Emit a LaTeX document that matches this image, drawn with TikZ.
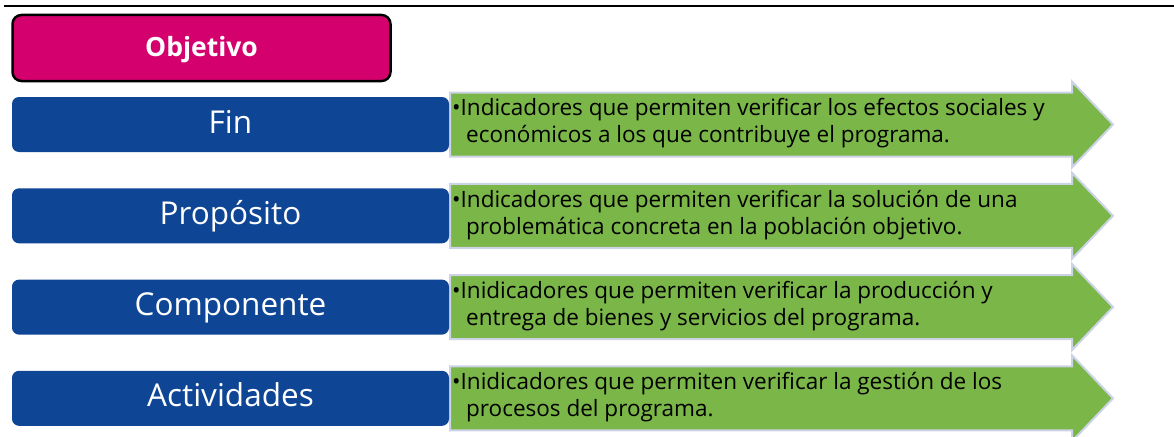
\documentclass[tikz,border=0pt]{standalone}
\usepackage{fontspec}
\setmainfont{Open Sans}

\definecolor{objmagenta}{HTML}{D4006E}
\definecolor{levelblue}{HTML}{0E4595}
\definecolor{arrowgreen}{HTML}{7AB648}
\definecolor{arrowedge}{HTML}{CDD3E6}

\tikzset{
  objbox/.style={draw=black, line width=2.5pt, fill=objmagenta, rounded corners=9pt,
    minimum width=378pt, minimum height=66pt, text=white, inner sep=0pt,
    text height=19pt, text depth=2pt,
    font=\fontsize{26.5}{28}\selectfont\bfseries},
  levelbox/.style={fill=levelblue, rounded corners=7pt, minimum width=437pt,
    minimum height=55pt, text=white, inner sep=0pt, text height=22pt, text depth=5pt,
    font=\fontsize{31.5}{33}\selectfont},
  arrowbody/.style={fill=arrowgreen, draw=arrowedge, line width=2pt},
  arrowtext/.style={anchor=north west, align=left, inner sep=0pt,
    font=\fontsize{22.5}{27}\selectfont}
}

\begin{document}
\begin{tikzpicture}[x=1pt,y=-1pt]

  % fix the frame of the picture
  \useasboundingbox (0,0) rectangle (1174,436);

  % rule at the top
  \draw [line width=2pt] (4,6) -- (1174,6);

  % header box
  \node [objbox] (objetivo) at (201.5,48) {Objetivo};

  % one row for each level: blue box, green arrow, text
  \foreach \y/\nm/\lvl/\one/\two in {
      124.5/fin/Fin/Indicadores que permiten verificar los efectos sociales y/económicos a los que contribuye el programa.,
      215.8/proposito/Propósito/Indicadores que permiten verificar la solución de una/problemática concreta en la población objetivo.,
      307.1/componente/Componente/Inidicadores que permiten verificar la producción y/entrega de bienes y servicios del programa.,
      398.3/actividades/Actividades/Inidicadores que permiten verificar la gestión de los/procesos del programa.} {
    \draw [arrowbody] (450,\y-32) -- (1072,\y-32) -- (1072,\y-43) -- (1113,\y)
      -- (1072,\y+43) -- (1072,\y+32) -- (450,\y+32) -- cycle;
    \node [levelbox] (\nm) at (230.5,\y) {\lvl};
    \node [arrowtext] (\nm-text) at (452,\y-26)
      {•\one\\\hspace*{14pt}\two};
  }

\end{tikzpicture}
\end{document}
